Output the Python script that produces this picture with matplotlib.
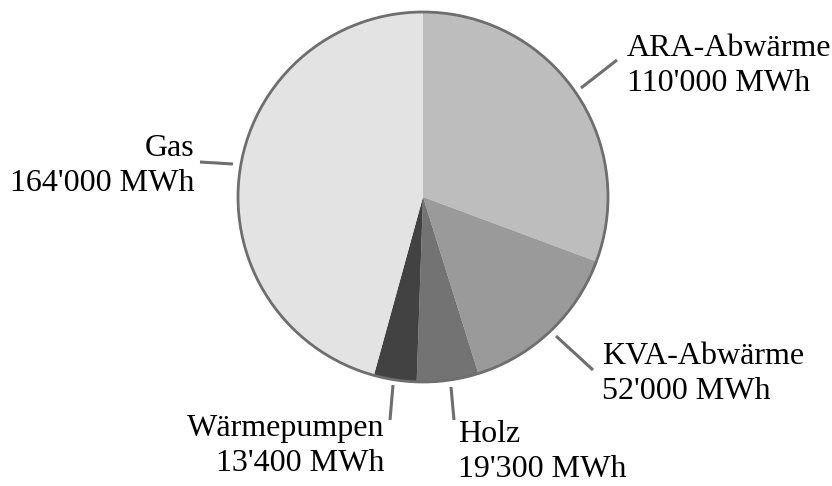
import matplotlib.pyplot as plt
from matplotlib.patches import Circle

plt.rcParams.update({"font.family": "Liberation Serif", "font.size": 23})

# Wärmeerzeugung nach Energieträger (MWh)
labels = ["ARA-Abwärme", "KVA-Abwärme", "Holz", "Wärmepumpen", "Gas"]
values = [110000, 52000, 19300, 13400, 164000]
colors = ["#bdbdbd", "#9a9a9a", "#737373", "#424242", "#e3e3e3"]

W, H = 832, 486
cx, cy, r = 423, 197, 185

# label layout in pixel coords: text anchor, alignment, leader line
label_pos = {
    "ARA-Abwärme": ((627, 66), "left", ((581, 88), (617, 60))),
    "KVA-Abwärme": ((602, 374), "left", ((556, 336), (593, 370))),
    "Holz": ((458, 452), "left", ((451, 387), (454, 420))),
    "Wärmepumpen": ((384, 446), "right", ((393, 385), (390, 420))),
    "Gas": ((194, 166), "right", ((200, 162), (233, 164))),
}


def fy(y):
    return H - y


def fmt(v):
    return f"{v:,}".replace(",", "'") + " MWh"


fig = plt.figure(figsize=(W / 100, H / 100), dpi=100)
ax = fig.add_axes([0, 0, 1, 1])

ax.pie(values, colors=colors, startangle=90, counterclock=False,
       center=(cx, fy(cy)), radius=r,
       wedgeprops={"linewidth": 0})
ax.add_patch(Circle((cx, fy(cy)), r, fill=False, edgecolor="#6e6e6e", lw=2))

for lab, val in zip(labels, values):
    (tx, ty), ha, ((x0, y0), (x1, y1)) = label_pos[lab]
    ax.plot([x0, x1], [fy(y0), fy(y1)], color="#6e6e6e", lw=2.2,
            solid_capstyle="butt")
    ax.text(tx, fy(ty), f"{lab}\n{fmt(val)}", ha=ha, va="center",
            multialignment=ha, linespacing=1.3, color="black")

ax.set_xlim(0, W)
ax.set_ylim(0, H)
ax.set_aspect("equal")
ax.axis("off")

fig.savefig("out.png", dpi=100, facecolor="white")
